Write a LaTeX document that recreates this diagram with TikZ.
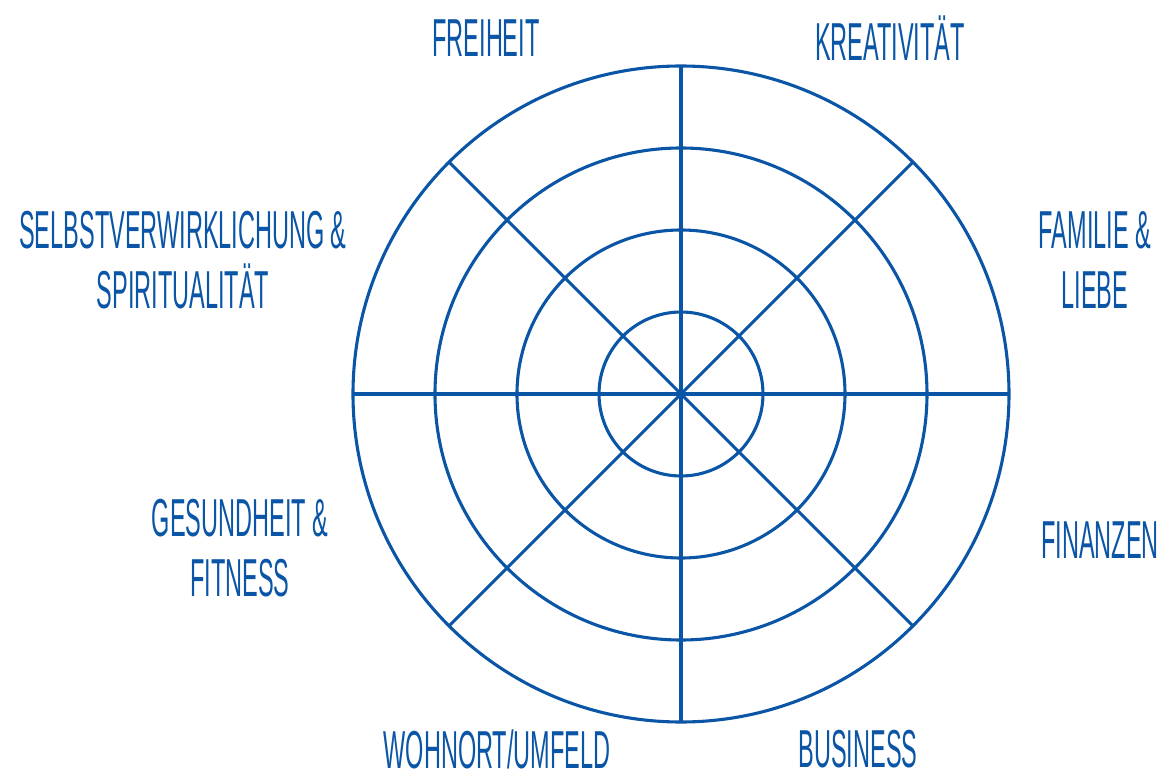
\documentclass[tikz,border=0pt]{standalone}
\usepackage{fontspec}
\usepackage{xcolor}
\usetikzlibrary{calc, positioning}
\newfontfamily\handfont{Liberation Sans}[FakeStretch=0.44]
\definecolor{wheelblue}{HTML}{0A55A5}
\tikzset{
    ring/.style={draw=wheelblue, line width=2.2pt},
    spoke/.style={draw=wheelblue, line width=2.2pt},
    area/.style={text=wheelblue, align=center, inner sep=0pt, font=\handfont\fontsize{38}{43}\selectfont}
}

\begin{document}
\begin{tikzpicture}
    \useasboundingbox (-17.025,-9.6) rectangle (12.075,9.85);
    \coordinate (Center) at (0,0);

    % Rings
    \foreach \r in {2.05, 4.1, 6.15, 8.2} {
        \draw[ring] (Center) circle (\r);
    }

    % Spokes
    \foreach \a in {0, 45, ..., 315} {
        \draw[spoke] (Center) -- (\a:8.2);
    }

    % Areas of life
    \node[area] (freiheit) at (-4.875, 8.9) {FREIHEIT};
    \node[area] (kreativ) at (5.225, 8.9) {KREATIVITÄT};
    \node[area] (familie) at (10.35, 3.35) {FAMILIE \&\\LIEBE};
    \node[area] (finanzen) at (10.475, -3.65) {FINANZEN};
    \node[area] (business) at (4.425, -8.88) {BUSINESS};
    \node[area] (wohnort) at (-4.6, -8.88) {WOHNORT/UMFELD};
    \node[area] (gesund) at (-11.025, -3.85) {GESUNDHEIT \&\\FITNESS};
    \node[area] (selbst) at (-12.45, 3.35) {SELBSTVERWIRKLICHUNG \&\\SPIRITUALITÄT};
\end{tikzpicture}
\end{document}
